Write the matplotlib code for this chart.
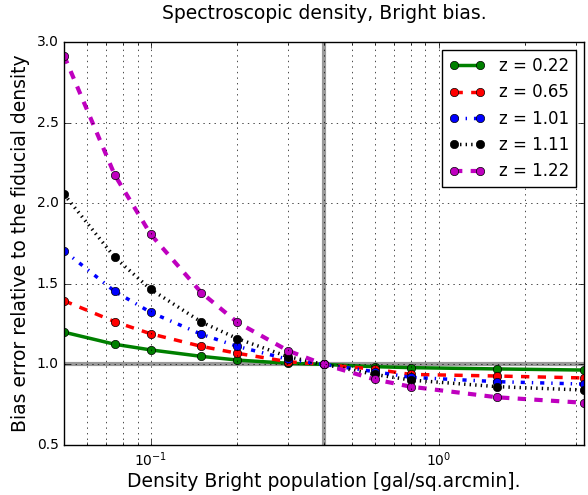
import matplotlib
matplotlib.use('Agg')
import matplotlib.pyplot as plt

plt.style.use('classic')

# densidades (eje x) y error relativo del bias para cada redshift
density = [0.05, 0.075, 0.1, 0.15, 0.2, 0.3, 0.4, 0.6, 0.8, 1.6, 3.2]

z_labels = ['z = 0.22', 'z = 0.65', 'z = 1.01', 'z = 1.11', 'z = 1.22']

err_z022 = [1.20, 1.125, 1.09, 1.05, 1.027, 1.007, 1.0, 0.986, 0.98, 0.972, 0.965]
err_z065 = [1.395, 1.265, 1.19, 1.112, 1.069, 1.017, 1.0, 0.97, 0.938, 0.928, 0.916]
err_z101 = [1.705, 1.453, 1.323, 1.187, 1.112, 1.032, 1.0, 0.955, 0.92, 0.893, 0.878]
err_z111 = [2.055, 1.664, 1.466, 1.263, 1.16, 1.048, 1.0, 0.938, 0.903, 0.862, 0.841]
err_z122 = [2.915, 2.175, 1.807, 1.445, 1.261, 1.085, 1.0, 0.907, 0.862, 0.796, 0.762]

series = [err_z022, err_z065, err_z101, err_z111, err_z122]
colors = ['green', 'red', 'blue', 'black', 'm']
styles = ['-', '--', '-.', ':', '--']
widths = [2.5, 2.5, 2.5, 2.5, 3]

fig = plt.figure(figsize=(5.88, 4.95))
ax = fig.add_axes([0.109, 0.101, 0.884, 0.814])

# lineas de referencia (densidad fiducial)
ax.axvline(0.4, color='gray', linewidth=3, alpha=0.8, zorder=1)
ax.axhline(1.0, color='gray', linewidth=3, alpha=0.8, zorder=1)

for vals, lab, c, ls, lw in zip(series, z_labels, colors, styles, widths):
    ax.plot(density, vals, linestyle=ls, color=c, linewidth=lw, marker='o',
            markersize=6, markerfacecolor=c, markeredgecolor='black', label=lab)

ax.set_xscale('log')
ax.set_xlim(0.05, 3.2)
ax.set_ylim(0.5, 3.0)
ax.set_yticks([0.5, 1.0, 1.5, 2.0, 2.5, 3.0])
ax.grid(True, which='both', axis='x')
ax.grid(True, which='major', axis='y')

ax.set_title('Spectroscopic density, Bright bias.', fontsize=13.5, y=1.04)
ax.set_xlabel('Density Bright population [gal/sq.arcmin].', fontsize=13.5, labelpad=2)
ax.set_ylabel('Bias error relative to the fiducial density', fontsize=13.5)
ax.tick_params(labelsize=10)

ax.legend(loc='upper right', numpoints=2, fontsize=12, handlelength=2.2)

fig.savefig('out.png', dpi=100)
